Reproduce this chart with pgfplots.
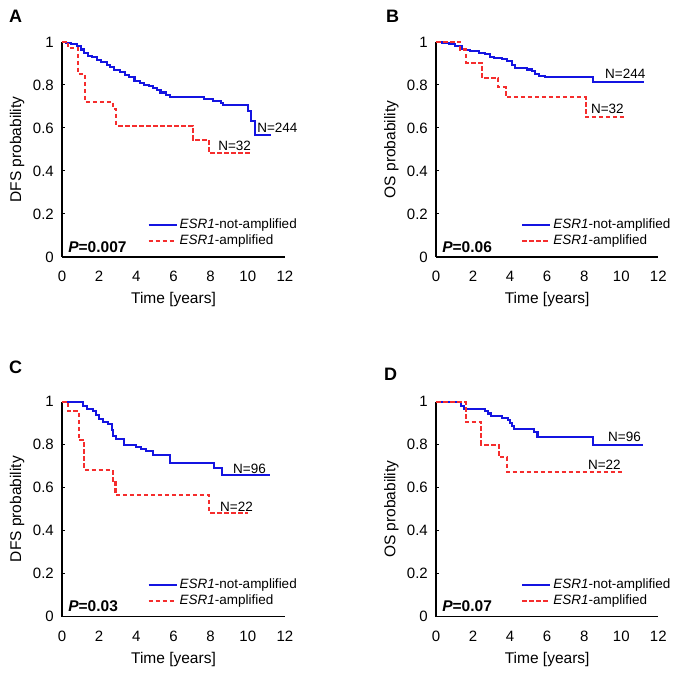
\documentclass[border=0pt]{standalone}
\usepackage{fontspec}
\setmainfont{Liberation Sans}
\usepackage{pgfplots}
\pgfplotsset{compat=1.18}

\definecolor{kmblue}{RGB}{20,20,225}
\definecolor{kmred}{RGB}{245,45,45}

\newcommand\tickfont{\fontsize{15}{18}\selectfont}
\newcommand\labfont{\fontsize{15.5}{18}\selectfont}
\newcommand\legfont{\fontsize{13.5}{16}\selectfont}
\newcommand\nfont{\fontsize{13.5}{16}\selectfont}
\newcommand\pfont{\fontsize{15.5}{18}\selectfont\bfseries}
\newcommand\letfont{\fontsize{18}{20}\selectfont\bfseries}

\pgfplotsset{
  km/.style={
    scale only axis, width=223pt, height=215pt,
    xmin=0, xmax=12, ymin=0, ymax=1,
    axis lines=left, axis line style={-, line width=1.4pt},
    xtick={0,2,4,6,8,10,12}, ytick={0,0.2,0.4,0.6,0.8,1},
    tick align=inside, major tick length=3pt,
    xtick style={draw=none}, ytick style={line width=1pt, black},
    tick label style={font=\tickfont, inner sep=0pt},
    xticklabel style={anchor=north, yshift=-14pt},
    yticklabel style={anchor=east, xshift=-8pt},
    /pgf/number format/assume math mode=true,
    xlabel={Time [years]},
    label style={font=\labfont},
    xlabel style={at={(axis description cs:0.5,-0.2)}, anchor=center},
    ylabel style={at={(axis description cs:-0.201,0.5)}, anchor=center},
    clip=false,
    legend cell align=left,
    legend image post style={xscale=1.64},
    legend style={at={(0.3833,0.178)}, anchor=north west, draw=none, fill=none,
      inner sep=0pt, font=\legfont, row sep=3pt, column sep=2pt,
      nodes={inner sep=0pt, text height=10pt, text depth=3pt}},
  },
  bluekm/.style={const plot, color=kmblue, line width=2.05pt, mark=none},
  redkm/.style={const plot, color=kmred, line width=2.05pt, dash pattern=on 4.5pt off 2.5pt, mark=none},
}

\begin{document}
\begin{tikzpicture}
\path[use as bounding box] (0pt,0pt) rectangle (677pt,676pt);

% A
\begin{axis}[km, at={(62pt,419pt)}, anchor=south west, ylabel={DFS probability}]
\addplot[bluekm] table {
t s
0 1
0.2 0.995
0.5 0.99
0.8 0.98
1.0 0.965
1.2 0.95
1.4 0.935
1.6 0.93
1.9 0.915
2.1 0.905
2.4 0.895
2.6 0.885
2.8 0.87
3.1 0.86
3.4 0.845
3.6 0.835
3.9 0.82
4.2 0.81
4.4 0.80
4.7 0.795
4.9 0.785
5.1 0.775
5.3 0.765
5.6 0.755
5.8 0.743
7.63 0.735
8.14 0.726
8.55 0.716
8.67 0.707
10.02 0.678
10.16 0.632
10.41 0.569
11.25 0.569
};
\addlegendentry{\textit{ESR1}-not-amplified}
\addplot[redkm] table {
t s
0 1
0.34 0.97
0.88 0.85
1.25 0.72
2.76 0.69
2.92 0.61
7.03 0.545
7.9 0.484
10.1 0.484
};
\addlegendentry{\textit{ESR1}-amplified}
\node[anchor=west, inner sep=0pt, font=\nfont] at (axis cs:10.5,0.60) {N=244};
\node[anchor=west, inner sep=0pt, font=\nfont] at (axis cs:8.4,0.516) {N=32};
\node[anchor=west, inner sep=0pt, font=\pfont] at (axis cs:0.33,0.047) {\textit{P}=0.007};
\end{axis}

% B
\begin{axis}[km, at={(436pt,419pt)}, anchor=south west, width=222.3pt, ylabel={OS probability}]
\addplot[bluekm] table {
t s
0 1
0.32 0.997
0.68 0.989
1.04 0.981
1.40 0.969
1.58 0.961
1.85 0.956
2.30 0.950
2.66 0.942
2.93 0.930
3.11 0.924
3.56 0.919
3.83 0.911
4.10 0.891
4.28 0.877
4.91 0.872
5.18 0.864
5.36 0.852
5.54 0.841
5.90 0.835
8.47 0.816
11.24 0.816
};
\addlegendentry{\textit{ESR1}-not-amplified}
\addplot[redkm] table {
t s
0 1
1.3 0.965
1.62 0.903
2.47 0.833
3.37 0.79
3.77 0.743
8.09 0.65
10.2 0.65
};
\addlegendentry{\textit{ESR1}-amplified}
\node[anchor=west, inner sep=0pt, font=\nfont] at (axis cs:9.12,0.851) {N=244};
\node[anchor=west, inner sep=0pt, font=\nfont] at (axis cs:8.36,0.688) {N=32};
\node[anchor=west, inner sep=0pt, font=\pfont] at (axis cs:0.33,0.047) {\textit{P}=0.06};
\end{axis}

% C
\begin{axis}[km, at={(62pt,59.3pt)}, anchor=south west, ylabel={DFS probability}]
\addplot[bluekm] table {
t s
0 1
1.15 0.98
1.35 0.965
1.65 0.955
1.85 0.94
2.0 0.92
2.2 0.905
2.5 0.895
2.68 0.87
2.75 0.84
2.9 0.825
3.34 0.80
4.0 0.79
4.27 0.778
4.5 0.771
4.91 0.751
5.81 0.716
8.2 0.690
8.61 0.657
11.18 0.657
};
\addlegendentry{\textit{ESR1}-not-amplified}
\addplot[redkm] table {
t s
0 1
0.32 0.955
0.9 0.82
1.2 0.682
2.72 0.625
2.88 0.567
7.9 0.484
10.0 0.484
};
\addlegendentry{\textit{ESR1}-amplified}
\node[anchor=west, inner sep=0pt, font=\nfont] at (axis cs:9.2,0.687) {N=96};
\node[anchor=west, inner sep=0pt, font=\nfont] at (axis cs:8.5,0.512) {N=22};
\node[anchor=west, inner sep=0pt, font=\pfont] at (axis cs:0.33,0.047) {\textit{P}=0.03};
\end{axis}

% D
\begin{axis}[km, at={(436pt,59.3pt)}, anchor=south west, width=222.3pt, ylabel={OS probability}]
\addplot[bluekm] table {
t s
0 1
1.35 0.98
1.5 0.968
2.62 0.957
2.8 0.945
2.95 0.932
3.55 0.925
3.9 0.915
4.0 0.9
4.1 0.885
4.2 0.872
5.3 0.86
5.48 0.837
8.47 0.80
11.17 0.80
};
\addlegendentry{\textit{ESR1}-not-amplified}
\addplot[redkm] table {
t s
0 1
1.6 0.905
2.45 0.80
3.38 0.743
3.83 0.673
10.18 0.673
};
\addlegendentry{\textit{ESR1}-amplified}
\node[anchor=west, inner sep=0pt, font=\nfont] at (axis cs:9.28,0.835) {N=96};
\node[anchor=west, inner sep=0pt, font=\nfont] at (axis cs:8.2,0.706) {N=22};
\node[anchor=west, inner sep=0pt, font=\pfont] at (axis cs:0.33,0.047) {\textit{P}=0.07};
\end{axis}

\node[anchor=center, inner sep=0pt, font=\letfont] at (15.5pt,659.7pt) {A};
\node[anchor=center, inner sep=0pt, font=\letfont] at (392.5pt,659.5pt) {B};
\node[anchor=center, inner sep=0pt, font=\letfont] at (15.5pt,308.5pt) {C};
\node[anchor=center, inner sep=0pt, font=\letfont] at (390.5pt,301.5pt) {D};
\end{tikzpicture}
\end{document}
